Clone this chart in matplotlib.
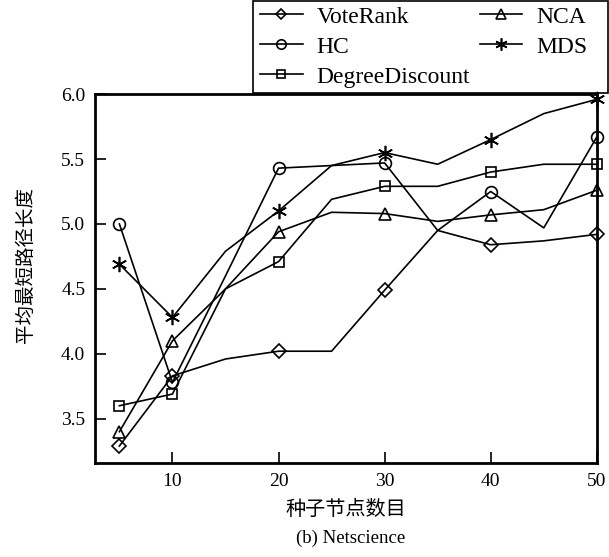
import matplotlib
matplotlib.use("Agg")
import matplotlib.pyplot as plt
from matplotlib.patches import Rectangle

x = [5, 10, 15, 20, 25, 30, 35, 40, 45, 50]
marked_x = [5, 10, 20, 30, 40, 50]

voterank = [3.29, 3.83, 3.96, 4.02, 4.02, 4.49, 4.95, 4.84, 4.87, 4.92]
hc = [5.00, 3.78, 4.60, 5.43, 5.45, 5.47, 4.95, 5.25, 4.97, 5.67]
degree_discount = [3.60, 3.69, 4.50, 4.71, 5.19, 5.29, 5.29, 5.40, 5.46, 5.46]
nca = [3.40, 4.10, 4.50, 4.94, 5.09, 5.08, 5.02, 5.07, 5.11, 5.26]
mds = [4.69, 4.28, 4.79, 5.10, 5.45, 5.55, 5.46, 5.65, 5.85, 5.96]

series = [
    ("VoteRank", voterank, "D"),
    ("HC", hc, "o"),
    ("DegreeDiscount", degree_discount, "s"),
    ("NCA", nca, "^"),
    ("MDS", mds, (6, 2, 0)),
]

xticks = [10, 20, 30, 40, 50]
yticks = [3.5, 4.0, 4.5, 5.0, 5.5, 6.0]

plt.rcParams['font.family'] = ['Liberation Serif', 'Noto Sans CJK SC']

fig = plt.figure(figsize=(6.09, 5.57), dpi=100)
ax = fig.add_axes([0.156, 0.169, 0.824, 0.662])

msizes = {"D": 7, "o": 8.5, "s": 7, "^": 8.5}
for name, vals, mk in series:
    mev = [x.index(v) for v in marked_x]
    ms = msizes.get(mk, 11) if isinstance(mk, str) else 11
    ax.plot(x, vals, color="black", lw=1.2, marker=mk, markevery=mev,
            markersize=ms, markerfacecolor="none",
            markeredgecolor="black", markeredgewidth=1.2, label=name,
            clip_on=False)

ax.set_xlim(2.7, 50)
ax.set_ylim(3.16, 6.0)
ax.set_xticks(xticks)
ax.set_yticks(yticks)
ax.set_yticklabels([f"{v:.1f}" for v in yticks])
ax.tick_params(direction="in", length=8, width=1.2, labelsize=14,
               top=False, right=False)
ax.tick_params(axis="x", pad=7)
ax.tick_params(axis="y", pad=7)
for sp in ax.spines.values():
    sp.set_linewidth(2)

ax.set_xlabel("种子节点数目", family=['Noto Sans CJK SC'], fontsize=14.5, labelpad=7)
ax.set_ylabel("平均最短路径长度", family=['Noto Sans CJK SC'], fontsize=14)
ax.yaxis.set_label_coords(-0.118, 0.537)

fig.text(0.576, 0.018, "(b) Netscience", ha="center", va="bottom", fontsize=13.5)

handles, labels = ax.get_legend_handles_labels()
leg = fig.legend(handles, labels, ncol=2, loc="upper left",
                 bbox_to_anchor=(260 / 609, 1 - 6 / 557),
                 fontsize=17, frameon=False, handlelength=1.8,
                 borderaxespad=0, labelspacing=0.36, handletextpad=0.6,
                 borderpad=0.0, markerscale=0.8, columnspacing=0.4)

fig.patches.append(Rectangle((253 / 609, 1 - 93 / 557), 355 / 609, 92 / 557,
                             transform=fig.transFigure, fill=False,
                             edgecolor="black", linewidth=1.2, zorder=5))

fig.savefig("out.png", dpi=100)
